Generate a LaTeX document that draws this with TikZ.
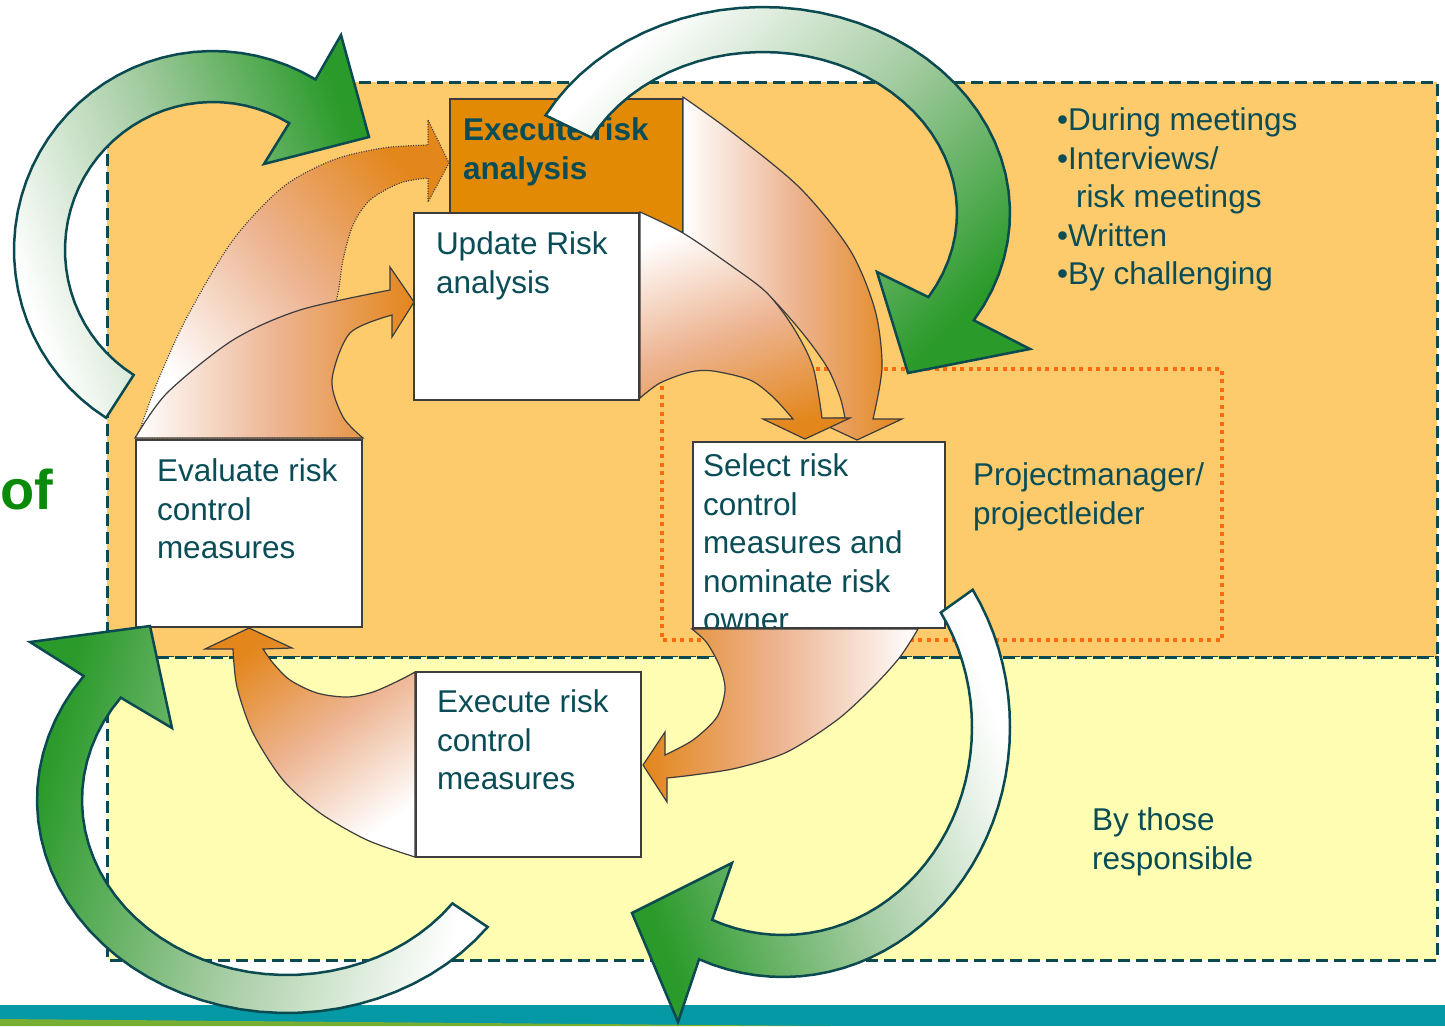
\documentclass[tikz,border=0pt]{standalone}
\usepackage{fontspec}
\setmainfont{Liberation Sans}
\usepackage{tikz}
\usetikzlibrary{positioning,calc}

\definecolor{orangebg}{HTML}{FDCB6B}
\definecolor{yellowbg}{HTML}{FFFDB2}
\definecolor{dashcol}{HTML}{0B4A50}
\definecolor{dotcol}{HTML}{FF6A0F}
\definecolor{txtcol}{HTML}{0A4D57}
\definecolor{exeorange}{HTML}{E38A04}
\definecolor{boxline}{HTML}{3C3C3C}
\definecolor{greenend}{HTML}{2A9A2A}
\definecolor{greenmid}{HTML}{A3CBA0}
\definecolor{orangeend}{HTML}{E3861B}
\definecolor{orangemid}{HTML}{EDB593}
\definecolor{stripeteal}{HTML}{0598A5}
\definecolor{stripelime}{HTML}{78AE34}
\definecolor{titlegreen}{HTML}{0A8A0A}

\tikzset{
  box/.style={draw=boxline, line width=1.5pt, fill=white, anchor=north west, inner sep=0pt, outer sep=0pt},
  txt/.style={anchor=north west, inner sep=0pt, outer sep=0pt, align=left, text=txtcol, font=\fontsize{31.5}{38.5}\selectfont},
  region/.style={draw=dashcol, line width=3pt, dash pattern=on 12pt off 6pt},
  garrow/.style={draw=dashcol, line width=2.5pt, top color=greenend, bottom color=white, middle color=greenmid},
  oarrow/.style={draw=boxline, line width=1.2pt, top color=orangeend, bottom color=white, middle color=orangemid},
}

\begin{document}
\begin{tikzpicture}[x=1pt, y=-1pt]
    \useasboundingbox (0,0) rectangle (1445,1026);
    \clip (0,0) rectangle (1445,1026);

    % Regions
    \path[region, fill=orangebg] (107,82) rectangle (1437,657);
    \path[region, fill=yellowbg] (107,657) rectangle (1437,960);
    \draw[dotcol, line width=3.5pt, dash pattern=on 4pt off 4.5pt] (662,369) rectangle (1222,640);

    % Bottom stripes
    \fill[stripeteal] (0,1005) rectangle (1445,1026);
    \fill[stripelime] (0,1019) -- (830,1026) -- (0,1026) -- cycle;

    % Arrows from Evaluate
    \path[oarrow, dash pattern=on 1pt off 1.5pt, shading angle=-50]
        plot[smooth] coordinates {(137,438) (157,383) (187,317) (233,240) (283,187) (333,160) (383,148) (428,145)}
        -- (428,120) -- (449,163) -- (428,202) -- (428,178)
        -- plot[smooth] coordinates {(428,178) (400,183) (370,200) (353,225) (343,260) (338,293) (325,350) (330,410) (363,438)} -- cycle;
    \path[oarrow, shading angle=-90]
        plot[smooth] coordinates {(135,438) (167,393) (233,340) (300,310) (390,290)}
        -- (390,267) -- (414,302) -- (392,337) -- (392,315)
        -- plot[smooth] coordinates {(392,315) (350,333) (332,380) (343,417) (363,438)} -- cycle;

    % Execute risk analysis
    \node[box, fill=exeorange, minimum width=233pt, minimum height=133pt] (exe) at (450,99) {};
    \node[txt, font=\fontsize{31.5}{38.5}\selectfont\bfseries, below right=15pt and 13pt of exe.north west] (exetxt) {\strut Execute risk\\analysis};

    \path[oarrow, shading angle=-90]
        plot[smooth] coordinates {(683,97) (733,133) (800,188) (850,250) (875,310) (882,367) (873,419)}
        -- (902,419) -- (857,440) -- (812,419) -- (845,418)
        -- plot[smooth] coordinates {(845,418) (840,397) (827,367) (800,330) (763,290) (725,268) (683,250)} -- cycle;

    % Update Risk analysis
    \node[box, minimum width=225pt, minimum height=187pt] (upd) at (414,213) {};
    \node[txt, below right=15pt and 22pt of upd.north west] (updtxt) {\strut Update Risk\\analysis};

    \path[oarrow, shading angle=-160]
        plot[smooth] coordinates {(640,212) (683,233) (733,267) (767,293) (793,327) (813,367) (822,418)}
        -- (850,418) -- (805,439) -- (763,419) -- (793,419)
        -- plot[smooth] coordinates {(793,419) (773,397) (750,380) (713,371) (690,372) (660,383) (640,398)} -- cycle;

    % Other steps
    \node[box, minimum width=226pt, minimum height=187pt] (eva) at (136,440) {};
    \node[txt, below right=15pt and 21pt of eva.north west] (evatxt) {\strut Evaluate risk\\control\\measures};
    \node[box, minimum width=252pt, minimum height=186pt] (sel) at (693,442) {};
    \begin{scope}
        \clip (sel.north west) rectangle ([yshift=1pt]sel.south east);
        \node[txt, below right=8pt and 10pt of sel.north west] (seltxt) {\strut Select risk\\control\\measures and\\nominate risk\\owner};
    \end{scope}
    \node[box, minimum width=225pt, minimum height=185pt] (exc) at (416,672) {};
    \node[txt, below right=14pt and 21pt of exc.north west] (exctxt) {\strut Execute risk\\control\\measures};

    \path[oarrow, shading angle=90]
        plot[smooth] coordinates {(692,629) (707,643) (720,667) (725,690) (717,717) (693,740) (665,755)}
        -- (665,732) -- (643,765) -- (667,802) -- (667,778)
        -- plot[smooth] coordinates {(667,778) (693,775) (737,768) (787,752) (837,720) (873,687) (900,657) (918,629)} -- cycle;
    \path[oarrow, shading angle=36]
        plot[smooth] coordinates {(415,672) (400,680) (373,692) (347,697) (317,693) (290,680) (273,663) (263,649)}
        -- (292,648) -- (249,628) -- (205,649) -- (233,649)
        -- plot[smooth] coordinates {(233,649) (237,687) (253,733) (283,780) (320,813) (367,840) (415,857)} -- cycle;

    % Green cycle arrows
    \path[garrow, shading angle=-70]
        plot[domain=122.5:301, samples=40] ({213+199*cos(\x)}, {250+199*sin(\x)})
        -- (341,35) -- (369,137) -- (264,164)
        -- plot[domain=301:122.4, samples=40] ({213+148*cos(\x)}, {250+148*sin(\x)}) -- cycle;
    \path[garrow, shading angle=-135]
        plot[domain=208.3:391.4, samples=40] ({763+247*cos(\x)}, {213+206*sin(\x)})
        -- (1030,349) -- (908,373) -- (877,272)
        -- plot[domain=391.5:207.9, samples=40] ({763+194*cos(\x)}, {213+161*sin(\x)}) -- cycle;
    \path[garrow, shading angle=110]
        plot[domain=-33.3:111.7, samples=40] ({783+227*cos(\x)}, {727+250*sin(\x)})
        -- (678,1022) -- (632,913) -- (732,863)
        -- plot[domain=112:-33.4, samples=40] ({783+189*cos(\x)}, {727+208*sin(\x)}) -- cycle;
    \path[garrow, shading angle=75]
        plot[domain=36.6:215.6, samples=40] ({287+250*cos(\x)}, {800+213*sin(\x)})
        -- (30,642) -- (150,626) -- (172,728)
        -- plot[domain=215.8:36.2, samples=40] ({287+205*cos(\x)}, {800+175*sin(\x)}) -- cycle;

    % Who / how
    \node[txt] (how) at (1057,104) {\strut•During meetings\\\strut•Interviews/\\\hspace*{19pt}risk meetings\\•Written\\•By challenging};
    \node[txt] (pm) at (973,459) {\strut Projectmanager/\\projectleider};
    \node[txt] (resp) at (1092,804) {\strut By those\\responsible};
    \node[anchor=base west, inner sep=0pt, text=titlegreen, font=\fontsize{56}{56}\selectfont\bfseries] (of) at (0,509) {of};
\end{tikzpicture}
\end{document}
